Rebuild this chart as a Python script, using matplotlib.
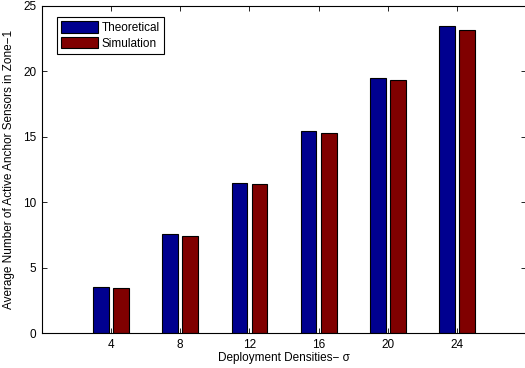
import numpy as np
import matplotlib
matplotlib.use("Agg")
import matplotlib.pyplot as plt

# data
densities = ["4", "8", "12", "16", "20", "24"]
theoretical = [3.54, 7.55, 11.5, 15.44, 19.52, 23.49]
simulation = [3.47, 7.44, 11.4, 15.31, 19.37, 23.19]

plt.rcParams['font.family'] = ['Liberation Sans', 'DejaVu Sans']

fig = plt.figure(figsize=(5.25, 3.68), dpi=100)
# right spine falls just outside the image, like the reference
ax = fig.add_axes([0.0794, 0.0951, 0.9234, 0.8886])

x = np.arange(1, len(densities) + 1)
w = 0.225
ax.bar(x - 0.145, theoretical, w, color='#00008F', edgecolor='black', lw=0.8, label='Theoretical')
ax.bar(x + 0.145, simulation, w, color='#800000', edgecolor='black', lw=0.8, label='Simulation')

ax.set_xlim(0, 7)
ax.set_ylim(0, 25)
ax.set_xticks(x)
ax.set_xticklabels(densities)
ax.set_yticks([0, 5, 10, 15, 20, 25])
ax.tick_params(direction='in', top=True, right=True, labelsize=8.5, length=3.5, width=0.6, pad=4)
for s in ax.spines.values():
    s.set_linewidth(0.8)

ax.set_xlabel("Deployment Densities\u2212 \u03c3", fontsize=8.5, labelpad=1)
ax.set_ylabel("Average Number of Active Anchor Sensors in Zone\u22121", fontsize=8.5, labelpad=6)

leg = ax.legend(loc='upper left', bbox_to_anchor=(0.0316, 0.966), fontsize=8.5, fancybox=False,
                edgecolor='black', framealpha=1, handlelength=3.1, handleheight=1.1,
                borderpad=0.35, labelspacing=0.25, handletextpad=0.35, borderaxespad=0)
leg.get_frame().set_linewidth(0.8)

fig.savefig("out.png", dpi=100)
